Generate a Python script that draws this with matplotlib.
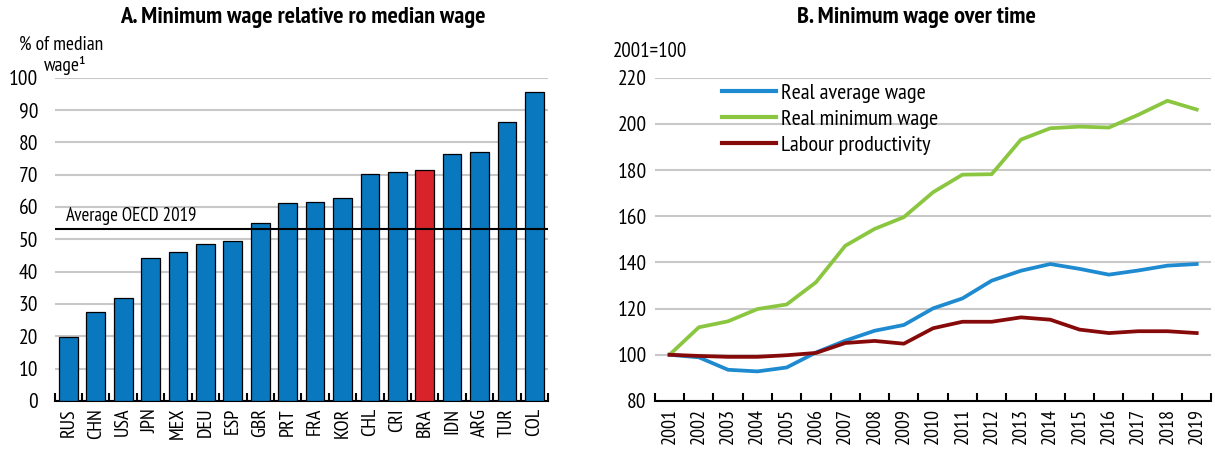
import matplotlib
matplotlib.use('Agg')
import matplotlib.pyplot as plt
from matplotlib import font_manager

countries = ['RUS', 'CHN', 'USA', 'JPN', 'MEX', 'DEU', 'ESP', 'GBR', 'PRT', 'FRA',
             'KOR', 'CHL', 'CRI', 'BRA', 'IDN', 'ARG', 'TUR', 'COL']
min_wage_ratio = [19.7, 27.4, 31.7, 44.1, 46.1, 48.4, 49.6, 55.2, 61.2, 61.6,
                  62.8, 70.3, 70.9, 71.5, 76.3, 76.9, 86.4, 95.7]
oecd_avg = 53.1

years = [str(y) for y in range(2001, 2020)]
real_avg_wage = [100, 98.9, 93.5, 92.8, 94.5, 101, 106.1, 110.4, 112.9, 120.1,
                 124.4, 132.1, 136.4, 139.3, 137.2, 134.7, 136.5, 138.6, 139.3]
real_min_wage = [100, 111.9, 114.5, 119.8, 121.8, 131.4, 147.2, 154.5, 159.6, 170.4,
                 178, 178.2, 193.2, 198.1, 198.8, 198.4, 203.9, 210, 206.2]
labour_prod = [100, 99.5, 99.1, 99.1, 99.8, 100.8, 105.1, 106, 104.8, 111.5,
               114.3, 114.3, 116.2, 115.2, 110.9, 109.4, 110.2, 110.2, 109.4]

# narrow sans to mimic Arial Narrow
names = {f.name for f in font_manager.fontManager.ttflist}
main_font = 'Liberation Sans'
for cand in ['Liberation Sans Narrow', 'Arial Narrow', 'PT Sans Narrow', 'Archivo Narrow',
             'Roboto Condensed', 'Open Sans Condensed']:
    if cand in names:
        main_font = cand
        break
plt.rcParams['font.family'] = [main_font, 'DejaVu Sans']

bar_blue = '#0A78BE'
bar_red = '#D9232B'
grid_col = '#C8C8C8'

fig = plt.figure(figsize=(12.15, 4.49), dpi=100)
ax1 = fig.add_axes([0.045, 0.107, 0.406, 0.72])
ax2 = fig.add_axes([0.539, 0.107, 0.458, 0.72])

# panel A
colors = [bar_red if c == 'BRA' else bar_blue for c in countries]
ax1.bar(range(len(countries)), min_wage_ratio, width=0.68, color=colors,
        edgecolor='black', linewidth=0.9, zorder=3)
ax1.axhline(oecd_avg, color='black', linewidth=1.5, zorder=4)
ax1.text(-0.1, oecd_avg + 1.2, 'Average OECD 2019', fontsize=13.5, va='bottom', ha='left', zorder=5)
ax1.set_xlim(-0.5, len(countries) - 0.5)
ax1.set_ylim(0, 100)
ax1.set_yticks(range(0, 101, 10))
ax1.set_xticks(range(len(countries)))
ax1.set_xticklabels(countries, rotation=90)
ax1.set_xticks([i - 0.5 for i in range(len(countries) + 1)], minor=True)
fig.text(0.249, 0.96, 'A. Minimum wage relative ro median wage', fontsize=17.5,
         fontweight='bold', ha='center', va='center')

# panel B
ax2.plot(range(len(years)), real_avg_wage, color='#1E8AD0', linewidth=2.7, label='Real average wage', zorder=3)
ax2.plot(range(len(years)), real_min_wage, color='#8BC640', linewidth=2.7, label='Real minimum wage', zorder=3)
ax2.plot(range(len(years)), labour_prod, color='#870A0A', linewidth=2.7, label='Labour productivity', zorder=3)
ax2.set_xlim(-0.5, len(years) - 0.5)
ax2.set_ylim(80, 220)
ax2.set_yticks(range(80, 221, 20))
ax2.set_xticks(range(len(years)))
ax2.set_xticklabels(years, rotation=90)
ax2.set_xticks([i - 0.5 for i in range(len(years) + 1)], minor=True)
fig.text(0.754, 0.96, 'B. Minimum wage over time', fontsize=17.5,
         fontweight='bold', ha='center', va='center')
leg = ax2.legend(loc='upper left', bbox_to_anchor=(0.1215, 0.982), frameon=False, fontsize=16,
                 handlelength=2.4, handletextpad=0.22, labelspacing=0.28, borderaxespad=0, borderpad=0)
for h in leg.get_lines():
    h.set_linewidth(3)

for ax, pad in ((ax1, 12), (ax2, 6)):
    for s in ('left', 'right', 'top'):
        ax.spines[s].set_visible(False)
    ax.spines['bottom'].set_linewidth(1.5)
    ax.yaxis.grid(True, color=grid_col, linewidth=1.5, zorder=0)
    ax.set_axisbelow(True)
    ax.tick_params(axis='y', length=0, labelsize=15.5, pad=pad)
    ax.tick_params(axis='x', which='major', length=0, labelsize=14.5, pad=5)
    ax.tick_params(axis='x', which='minor', length=6, width=1.5, direction='in')

fig.text(0.016, 0.9, '% of median', fontsize=14, ha='left', va='center')
fig.text(0.036, 0.855, 'wage\u00b9', fontsize=14, ha='left', va='center')
fig.text(0.504, 0.885, '2001=100', fontsize=15, ha='left', va='center')

fig.savefig('out.png', dpi=100)
